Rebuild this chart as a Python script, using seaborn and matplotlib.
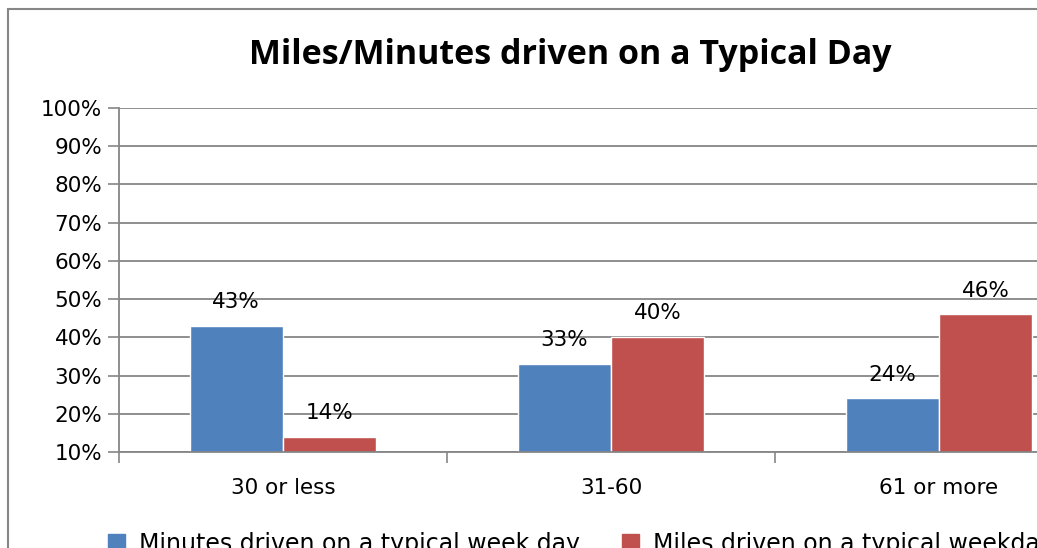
import matplotlib.pyplot as plt
import matplotlib.patches as mpatches
import seaborn as sns
import pandas as pd

categories = ['30 or less', '31-60', '61 or more']
minutes_pct = [43, 33, 24]
miles_pct = [14, 40, 46]
series_names = ['Minutes driven on a typical week day', 'Miles driven on a typical weekday']
y_ticks = [10, 20, 30, 40, 50, 60, 70, 80, 90, 100]

df = pd.DataFrame({
    'range': categories * 2,
    'pct': minutes_pct + miles_pct,
    'series': [series_names[0]] * 3 + [series_names[1]] * 3,
})

sns.set_style('white')
plt.rcParams['font.family'] = ['DejaVu Sans']
plt.rcParams['text.color'] = 'black'

grid_col = '#868686'
fig = plt.figure(figsize=(10.37, 5.48), dpi=100)
ax = fig.add_axes([119 / 1037, 1 - 452 / 548, 984 / 1037, 344 / 548])

sns.barplot(data=df, x='range', y='pct', hue='series', palette=['#4F81BD', '#C0504D'],
            width=0.57, saturation=1, ax=ax, legend=False)

for cont in ax.containers:
    ax.bar_label(cont, labels=[f'{int(v)}%' for v in cont.datavalues], padding=10,
                 fontsize=15.5, color='black')

ax.set_xlim(-0.5, 2.5)
ax.set_ylim(10, 100)
ax.set_yticks(y_ticks)
ax.set_yticklabels([f'{t}%' for t in y_ticks], fontsize=15.5)
ax.set_xlabel('')
ax.set_ylabel('')
ax.tick_params(axis='x', length=0, labelsize=15.5, pad=19, labelcolor='black')
ax.tick_params(axis='y', length=8, color=grid_col, width=1.2, pad=4, left=True, labelcolor='black')
ax.set_xticks([-0.5, 0.5, 1.5, 2.5], minor=True)
ax.tick_params(axis='x', which='minor', length=8, color=grid_col, width=1.2, bottom=True)
ax.yaxis.grid(True, color=grid_col, linewidth=1.3)
ax.set_axisbelow(True)
for s in ['top', 'right']:
    ax.spines[s].set_visible(False)
for s in ['left', 'bottom']:
    ax.spines[s].set_color(grid_col)
    ax.spines[s].set_linewidth(1.3)

fig.text(570 / 1037, 1 - 55 / 548, 'Miles/Minutes driven on a Typical Day', ha='center', va='center',
         fontsize=24.5, fontweight='bold', family='Open Sans', color='black')

handles = [mpatches.Patch(color='#4F81BD'), mpatches.Patch(color='#C0504D')]
fig.legend(handles, series_names, loc='center left', bbox_to_anchor=(108 / 1037, 0.008), ncol=2,
           frameon=False, fontsize=17, handlelength=0.7, handleheight=0.7, columnspacing=1.8,
           handletextpad=0.6, borderpad=0, borderaxespad=0)

fig.add_artist(mpatches.Rectangle((8 / 1037, -0.2), 1.2, (1 - 9 / 548) + 0.2,
                                  transform=fig.transFigure, fill=False, edgecolor=grid_col, linewidth=1.5))

fig.savefig('out.png', dpi=100)
